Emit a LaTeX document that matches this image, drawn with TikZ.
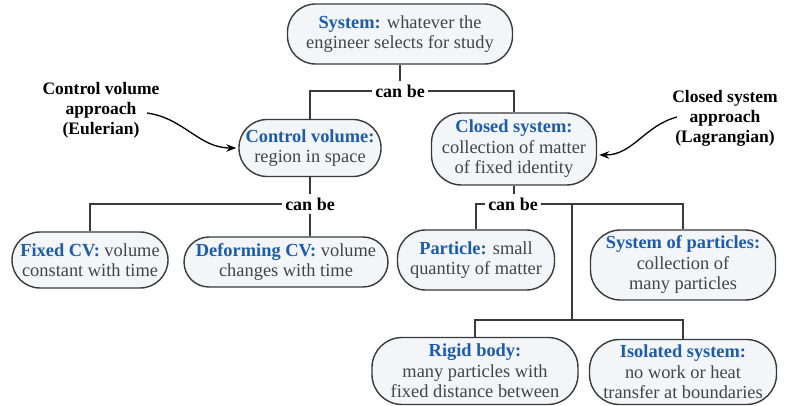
\documentclass[tikz,border=0pt]{standalone}
\usepackage{fontspec}
\setmainfont{Liberation Serif}
\usetikzlibrary{arrows.meta}

\definecolor{titleblue}{RGB}{28,92,172}
\definecolor{bodygray}{RGB}{68,68,68}
\definecolor{edgegray}{RGB}{58,58,58}
\definecolor{boxfill}{RGB}{243,245,248}

% bold blue term at the start of each concept box
\newcommand\conceptname[1]{\textcolor{titleblue}{\bfseries #1}}

\begin{document}
\begin{tikzpicture}[x=1pt,y=1pt,
  concept/.style={draw=edgegray, line width=1.4pt, fill=boxfill,
    rounded corners=28pt, align=center, text=bodygray, inner sep=0pt,
    font=\fontsize{18.4}{20.5}\selectfont},
  canbe/.style={font=\fontsize{18}{20}\selectfont\bfseries, inner sep=3pt},
  note/.style={font=\fontsize{17.5}{20}\selectfont\bfseries, align=center},
  link/.style={draw=edgegray, line width=1.1pt},
  pointer/.style={line width=1.3pt, -{Stealth[length=10pt,width=7.5pt]}}]

\useasboundingbox (0,0) rectangle (785,-406);

% concept boxes
\node[concept, minimum width=225, minimum height=60] (sys) at (400,-34)
  {\conceptname{System:} whatever the\\engineer selects for study};
\node[concept, minimum width=142, minimum height=57] (cv) at (310,-148)
  {\conceptname{Control volume:}\\region in space};
\node[concept, minimum width=165, minimum height=72, rounded corners=30pt] (cs) at (514,-149)
  {\conceptname{Closed system:}\\collection of matter\\of fixed identity};
\node[concept, minimum width=156, minimum height=56] (fixed) at (90,-260)
  {\conceptname{Fixed CV:} volume\\constant with time};
\node[concept, minimum width=204, minimum height=50, rounded corners=25pt] (deform) at (286,-262)
  {\conceptname{Deforming CV:} volume\\changes with time};
\node[concept, minimum width=157, minimum height=60] (particle) at (476,-260)
  {\conceptname{Particle:} small\\quantity of matter};
\node[concept, minimum width=185, minimum height=70, rounded corners=30pt] (sop) at (683,-265)
  {\conceptname{System of particles:}\\collection of\\many particles};
\node[concept, minimum width=206, minimum height=67, rounded corners=30pt] (rigid) at (475,-371)
  {\conceptname{Rigid body:}\\many particles with\\fixed distance between};
\node[concept, minimum width=187, minimum height=65, rounded corners=30pt] (iso) at (683,-372)
  {\conceptname{Isolated system:}\\no work or heat\\transfer at boundaries};

% "can be" labels
\node[canbe] (cb1) at (400,-91) {can be};
\node[canbe] (cb2) at (310,-204) {can be};
\node[canbe] (cb3) at (513,-204) {can be};

% approach notes
\node[note] (cvnote) at (101,-110) {Control volume\\approach\\(Eulerian)};
\node[note] (csnote) at (725,-118) {Closed system\\approach\\(Lagrangian)};

% tree connectors
\draw[link] (sys.south) -- (cb1.north);
\draw[link] (cb1.west) -| (cv.north);
\draw[link] (cb1.east) -| (cs.north);

\draw[link] (cv.south) -- (cb2.north);
\draw[link] (cb2.west) -| (fixed.north);
\draw[link] (cb2.south) -- (cb2.south |- deform.north);

\draw[link] (cs.south) -- (cs.south |- cb3.north);
\draw[link] (cb3.west) -| (particle.north);
\draw[link] (cb3.east) -| (sop.north);
\coordinate (fork) at (572,-204);
\coordinate (split) at (572,-320);
\draw[link] (fork) -- (split);
\draw[link] (split) -| (rigid.north);
\draw[link] (split) -| (iso.north);

% note pointers
\coordinate (cvtail) at (147,-113);
\coordinate (cstail) at (677,-117);
\draw[pointer] (cvtail) to[out=-8, in=180] ([xshift=-2pt]cv.west);
\draw[pointer] (cstail) to[out=195, in=0] ([xshift=2pt,yshift=-6pt]cs.east);

\end{tikzpicture}
\end{document}
